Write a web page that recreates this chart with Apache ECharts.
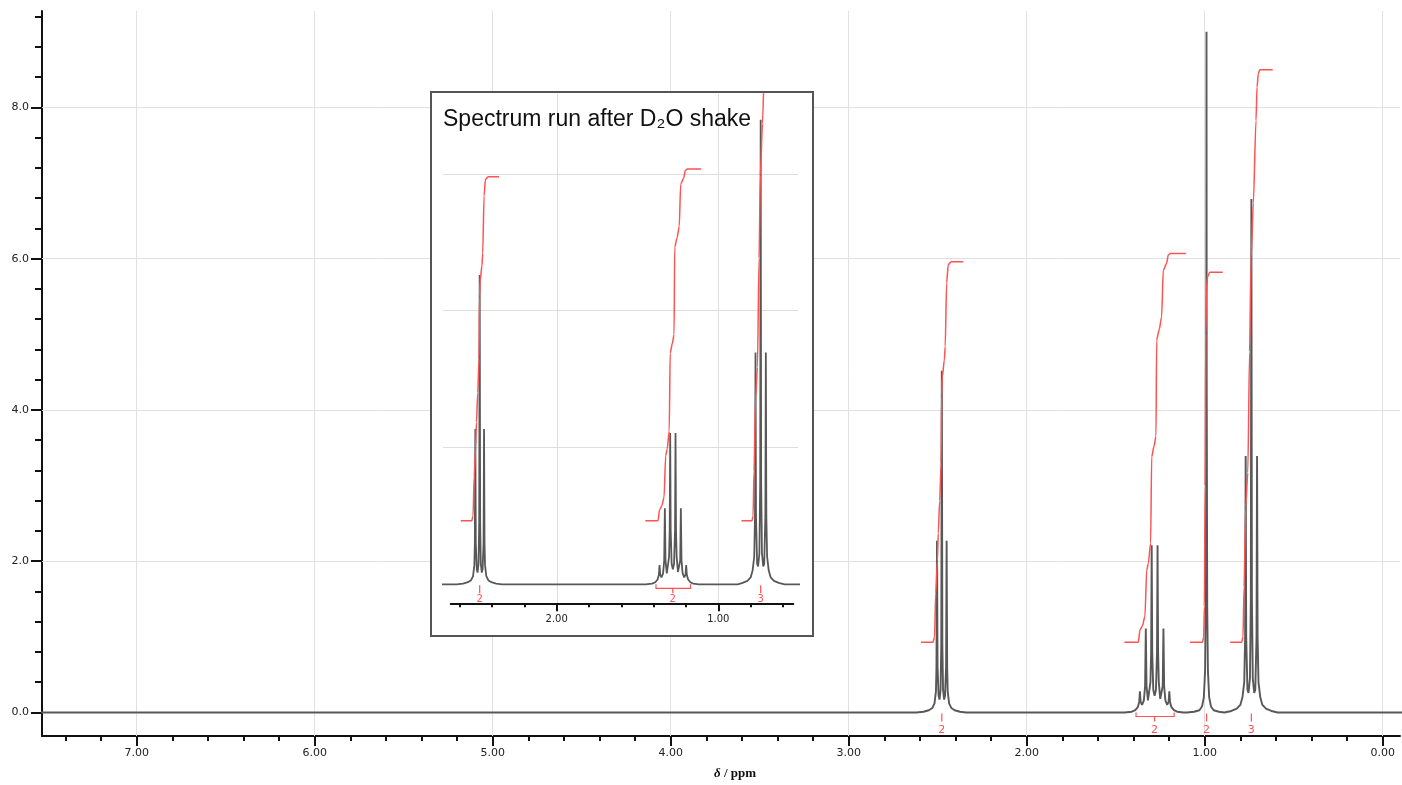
<!DOCTYPE html>
<html>
<head>
<meta charset="utf-8">
<title>1H NMR spectrum</title>
<script src="https://cdn.jsdelivr.net/npm/echarts@6/dist/echarts.min.js"></script>
<style>
  html, body { margin: 0; padding: 0; background: #ffffff; }
  #chart { width: 1402px; height: 785px; }
</style>
</head>
<body>
<div id="chart"></div>
<script>
// ---------- spectrum data: [chemical shift (ppm), intensity] ----------
// CH2-N triplet around 2.48 ppm
const multipletCH2N = [
  [2.62, 0], [2.58, 0.01], [2.55, 0.03], [2.53, 0.06], [2.518, 0.12], [2.510, 0.28],
  [2.507, 0.6], [2.504, 2.27], [2.501, 0.6], [2.495, 0.22], [2.490, 0.17], [2.484, 0.3],
  [2.480, 0.9], [2.477, 4.52], [2.474, 0.9], [2.470, 0.3], [2.464, 0.17], [2.459, 0.22],
  [2.453, 0.6], [2.450, 2.27], [2.447, 0.6], [2.444, 0.28], [2.436, 0.12], [2.424, 0.06],
  [2.405, 0.03], [2.375, 0.01], [2.34, 0]
];
// CH2 sextet around 1.28 ppm
const multipletCH2 = [
  [1.45, 0], [1.41, 0.01], [1.39, 0.03], [1.376, 0.07], [1.368, 0.14], [1.364, 0.28],
  [1.360, 0.14], [1.352, 0.1], [1.342, 0.16], [1.335, 0.35], [1.331, 1.11], [1.327, 0.35],
  [1.319, 0.16], [1.313, 0.18], [1.305, 0.4], [1.301, 0.8], [1.298, 2.21], [1.295, 0.8],
  [1.289, 0.3], [1.2815, 0.22], [1.274, 0.3], [1.268, 0.8], [1.265, 2.21], [1.262, 0.8],
  [1.258, 0.4], [1.250, 0.18], [1.244, 0.16], [1.236, 0.35], [1.232, 1.11], [1.228, 0.35],
  [1.221, 0.16], [1.211, 0.1], [1.203, 0.14], [1.199, 0.28], [1.195, 0.14], [1.187, 0.07],
  [1.173, 0.03], [1.155, 0.01], [1.12, 0]
];
// NH2 singlet at 0.99 ppm (exchanges away with D2O)
const singletNH2 = [
  [1.10, 0], [1.06, 0.01], [1.03, 0.03], [1.015, 0.08], [1.005, 0.2], [0.998, 0.55],
  [0.994, 1.4], [0.991, 4.5], [0.990, 9.0], [0.989, 4.5], [0.986, 1.4], [0.982, 0.55],
  [0.975, 0.2], [0.965, 0.08], [0.95, 0.03], [0.92, 0.01], [0.89, 0]
];
// CH3 triplet around 0.74 ppm
const multipletCH3 = [
  [0.88, 0], [0.85, 0.02], [0.82, 0.05], [0.80, 0.1], [0.788, 0.2], [0.778, 0.4],
  [0.773, 1.0], [0.770, 3.39], [0.767, 1.0], [0.760, 0.3], [0.754, 0.26], [0.746, 0.45],
  [0.741, 1.5], [0.738, 6.79], [0.735, 1.5], [0.730, 0.45], [0.722, 0.26], [0.716, 0.3],
  [0.709, 1.0], [0.706, 3.39], [0.703, 1.0], [0.698, 0.4], [0.688, 0.2], [0.676, 0.1],
  [0.656, 0.05], [0.626, 0.02], [0.59, 0]
];

// ---------- integral traces: [ppm, integral height] ----------
const integralCH2N = [
  [2.594, 0.93], [2.526, 0.93], [2.518, 1.0], [2.511, 1.58], [2.502, 2.0], [2.497, 2.37],
  [2.489, 2.8], [2.481, 3.3], [2.478, 4.2], [2.474, 4.44], [2.463, 4.66], [2.458, 4.84],
  [2.450, 5.68], [2.441, 5.92], [2.425, 5.96], [2.357, 5.96]
];
const integralCH2 = [
  [1.452, 0.93], [1.373, 0.93], [1.364, 1.09], [1.351, 1.14], [1.336, 1.27], [1.326, 1.88],
  [1.317, 1.97], [1.304, 2.24], [1.298, 3.38], [1.285, 3.52], [1.274, 3.65], [1.270, 4.93],
  [1.256, 5.06], [1.242, 5.23], [1.233, 5.85], [1.214, 5.94], [1.205, 6.05], [1.192, 6.07],
  [1.106, 6.07]
];
const integralNH2 = [
  [1.083, 0.93], [1.012, 0.93], [1.006, 1.0], [1.002, 1.4], [0.998, 3.0], [0.994, 5.0],
  [0.990, 5.6], [0.984, 5.76], [0.972, 5.82], [0.899, 5.82]
];
const integralCH3 = [
  [0.857, 0.93], [0.792, 0.93], [0.785, 1.0], [0.779, 1.66], [0.770, 2.71], [0.758, 3.17],
  [0.748, 4.77], [0.740, 5.98], [0.727, 6.73], [0.712, 7.83], [0.706, 8.27], [0.699, 8.45],
  [0.690, 8.50], [0.618, 8.50]
];

// ---------- integration labels ----------
const labelPpm   = [2.477, 1.282, 0.990, 0.738];
const labelText  = ['2', '2', '2', '3'];
const bracketFrom = [null, 1.386, null, null];
const bracketTo   = [null, 1.172, null, null];
// after the D2O shake only three groups remain
const insetLabelIdx = [0, 1, 3];

// ---------- axis ticks ----------
const ppmMajor = [7, 6, 5, 4, 3, 2, 1, 0];
const intensityMajor = [0, 2, 4, 6, 8];
const insetPpmMajor = [2, 1];
const insetIntensityGrid = [2, 4, 6];
const ppmMinor = [];
for (let k = 0; k <= 37; k++) ppmMinor.push(+(k * 0.2).toFixed(1));
const intensityMinor = [];
for (let k = 0; k <= 23; k++) intensityMinor.push(+(k * 0.4).toFixed(1));
const insetPpmMinor = [];
for (let k = 3; k <= 13; k++) insetPpmMinor.push(+(k * 0.2).toFixed(1));

// assembled traces
const spectrumMain = [[7.7, 0]].concat(multipletCH2N, multipletCH2, singletNH2, multipletCH3, [[-0.3, 0]]);
const spectrumD2O  = [[2.9, 0]].concat(multipletCH2N, multipletCH2, multipletCH3, [[0.3, 0]]);

// ---------- styles ----------
const SPEC_COLOR = '#585858';
const INT_COLOR = '#ff5252';
const AXIS_COLOR = '#111111';
const GRID_COLOR = '#e1e1e1';
const LABEL_FONT = 'DejaVu Sans';

// inset value range
const INSET_Y_MIN = -0.278;
const INSET_Y_MAX = 7.168;

function labelRenderer(indices, textOffset, fontSize) {
  return function (params, api) {
    const i = indices[params.dataIndex];
    const p = api.coord([api.value(0), 0]);
    const base = p[1];
    const stroke = { stroke: INT_COLOR, lineWidth: 1.2, fill: null };
    const children = [];
    if (bracketFrom[i] != null) {
      const a = api.coord([bracketFrom[i], 0])[0];
      const b = api.coord([bracketTo[i], 0])[0];
      children.push({ type: 'polyline', shape: { points: [[a, base], [a, base + 4], [b, base + 4], [b, base]] }, style: stroke });
      children.push({ type: 'line', shape: { x1: p[0], y1: base + 4, x2: p[0], y2: base + 9 }, style: stroke });
    } else {
      children.push({ type: 'line', shape: { x1: p[0], y1: base + 1, x2: p[0], y2: base + 9 }, style: stroke });
    }
    children.push({
      type: 'text',
      style: { text: labelText[i], x: p[0], y: base + textOffset, align: 'center', verticalAlign: 'middle',
               fill: INT_COLOR, font: fontSize + 'px "' + LABEL_FONT + '"' }
    });
    return { type: 'group', children: children };
  };
}

function integralSeries(data, xi, yi, z) {
  return {
    type: 'line', data: data, xAxisIndex: xi, yAxisIndex: yi, showSymbol: false, symbol: 'none',
    smooth: 0.25, smoothMonotone: 'x', clip: true, z: z, silent: true,
    lineStyle: { color: INT_COLOR, width: 1.5 }
  };
}

const mainLabelIdx = [0, 1, 2, 3];

const option = {
  animation: false,
  backgroundColor: '#ffffff',
  grid: [
    { left: 42, top: 11, right: 2, bottom: 49 },                 // main spectrum
    { left: 443, top: 94, width: 355, height: 509.3 },           // inset traces
    { left: 450.7, top: 94, width: 342.6, height: 509.3 }        // inset scale
  ],
  xAxis: [
    {
      gridIndex: 0, type: 'value', min: -0.097, max: 7.532, inverse: true, position: 'bottom',
      axisLine: { show: true, onZero: false, lineStyle: { color: AXIS_COLOR, width: 2 } },
      axisTick: { show: true, customValues: ppmMinor, length: 5, lineStyle: { color: AXIS_COLOR, width: 2 } },
      axisLabel: { show: true, customValues: ppmMajor, formatter: v => v.toFixed(2), margin: 12,
                   fontFamily: LABEL_FONT, fontSize: 11, color: '#222' },
      splitLine: { show: false },
      name: '{d|δ} / ppm', nameLocation: 'middle', nameGap: 31,
      nameTextStyle: {
        fontFamily: 'Liberation Serif', fontWeight: 'bold', fontSize: 13, color: '#111', padding: [0, 0, 0, 28],
        rich: { d: { fontFamily: 'Liberation Serif', fontWeight: 'bold', fontStyle: 'italic', fontSize: 13, color: '#111' } }
      }
    },
    {
      gridIndex: 0, type: 'value', min: -0.097, max: 7.532, inverse: true, position: 'bottom', offset: 0,
      axisLine: { show: false, onZero: false },
      axisTick: { show: true, customValues: ppmMajor, length: 10, lineStyle: { color: AXIS_COLOR, width: 2 } },
      axisLabel: { show: false }, splitLine: { show: false }
    },
    {
      gridIndex: 1, type: 'value', min: 0.507, max: 2.704, inverse: true, show: false
    },
    {
      gridIndex: 2, type: 'value', min: 0.536, max: 2.656, inverse: true, position: 'bottom', z: 20,
      axisLine: { show: true, onZero: false, lineStyle: { color: AXIS_COLOR, width: 2 } },
      axisTick: { show: true, customValues: insetPpmMinor, length: 4, lineStyle: { color: AXIS_COLOR, width: 2 } },
      axisLabel: { show: true, customValues: insetPpmMajor, formatter: v => v.toFixed(2), margin: 11,
                   fontFamily: LABEL_FONT, fontSize: 10, color: '#222' },
      splitLine: { show: false }
    },
    {
      gridIndex: 2, type: 'value', min: 0.536, max: 2.656, inverse: true, position: 'bottom', offset: 0, z: 20,
      axisLine: { show: false, onZero: false },
      axisTick: { show: true, customValues: insetPpmMajor, length: 8, lineStyle: { color: AXIS_COLOR, width: 2 } },
      axisLabel: { show: false }, splitLine: { show: false }
    }
  ],
  yAxis: [
    {
      gridIndex: 0, type: 'value', min: -0.311, max: 9.276, position: 'left',
      axisLine: { show: true, onZero: false, lineStyle: { color: AXIS_COLOR, width: 2 } },
      axisTick: { show: true, customValues: intensityMinor, length: 7, lineStyle: { color: AXIS_COLOR, width: 2 } },
      axisLabel: { show: true, customValues: intensityMajor, formatter: v => v.toFixed(1), margin: 13,
                   fontFamily: LABEL_FONT, fontSize: 11, color: '#222' },
      splitLine: { show: false }
    },
    {
      gridIndex: 0, type: 'value', min: -0.311, max: 9.276, position: 'left', offset: 0,
      axisLine: { show: false, onZero: false },
      axisTick: { show: true, customValues: intensityMajor, length: 11, lineStyle: { color: AXIS_COLOR, width: 2 } },
      axisLabel: { show: false }, splitLine: { show: false }
    },
    { gridIndex: 1, type: 'value', min: INSET_Y_MIN, max: INSET_Y_MAX, show: false },
    { gridIndex: 2, type: 'value', min: 0, max: 1, show: false }
  ],
  graphic: {
    elements: [
      { type: 'rect', z: 10, silent: true, shape: { x: 431, y: 92, width: 382, height: 544 },
        style: { fill: '#ffffff', stroke: '#555555', lineWidth: 2 } },
      { type: 'text', z: 30, silent: true, x: 443, y: 120,
        style: { text: 'Spectrum run after D\u2082O shake', font: '23px "Liberation Sans", Arial, sans-serif',
                 fill: '#111111', verticalAlign: 'middle', align: 'left' } }
    ]
  },
  series: [
    // main chart grid lines
    {
      type: 'line', xAxisIndex: 0, yAxisIndex: 0, data: [], z: 1, silent: true,
      markLine: {
        silent: true, symbol: 'none', z: 1, animation: false, label: { show: false },
        lineStyle: { color: GRID_COLOR, width: 1, type: 'solid' },
        data: ppmMajor.map(v => ({ xAxis: v })).concat([2, 4, 6, 8].map(v => ({ yAxis: v })))
      }
    },
    {
      type: 'line', data: spectrumMain, xAxisIndex: 0, yAxisIndex: 0, showSymbol: false, symbol: 'none',
      clip: true, z: 3, silent: true, lineStyle: { color: SPEC_COLOR, width: 1.9 }
    },
    integralSeries(integralCH2N, 0, 0, 4),
    integralSeries(integralCH2, 0, 0, 4),
    integralSeries(integralNH2, 0, 0, 4),
    integralSeries(integralCH3, 0, 0, 4),
    {
      type: 'custom', xAxisIndex: 0, yAxisIndex: 0, z: 5, silent: true,
      data: mainLabelIdx.map(i => [labelPpm[i]]),
      renderItem: labelRenderer(mainLabelIdx, 17.5, 11)
    },
    // inset grid lines
    {
      type: 'line', xAxisIndex: 2, yAxisIndex: 2, data: [], z: 15, silent: true,
      markLine: {
        silent: true, symbol: 'none', z: 15, animation: false, label: { show: false },
        lineStyle: { color: '#dedede', width: 1, type: 'solid' },
        data: insetPpmMajor.map(v => [{ coord: [v, INSET_Y_MIN] }, { coord: [v, INSET_Y_MAX] }])
          .concat(insetIntensityGrid.map(v => ({ yAxis: v })))
      }
    },
    {
      type: 'line', data: spectrumD2O, xAxisIndex: 2, yAxisIndex: 2, showSymbol: false, symbol: 'none',
      clip: true, z: 20, silent: true, lineStyle: { color: SPEC_COLOR, width: 1.8 }
    },
    integralSeries(integralCH2N, 2, 2, 21),
    integralSeries(integralCH2, 2, 2, 21),
    integralSeries(integralCH3, 2, 2, 21),
    {
      type: 'custom', xAxisIndex: 2, yAxisIndex: 2, z: 22, silent: true,
      data: insetLabelIdx.map(i => [labelPpm[i]]),
      renderItem: labelRenderer(insetLabelIdx, 15, 10)
    }
  ]
};

const chart = echarts.init(document.getElementById('chart'), null, { renderer: 'canvas' });
chart.setOption(option);
</script>
</body>
</html>
